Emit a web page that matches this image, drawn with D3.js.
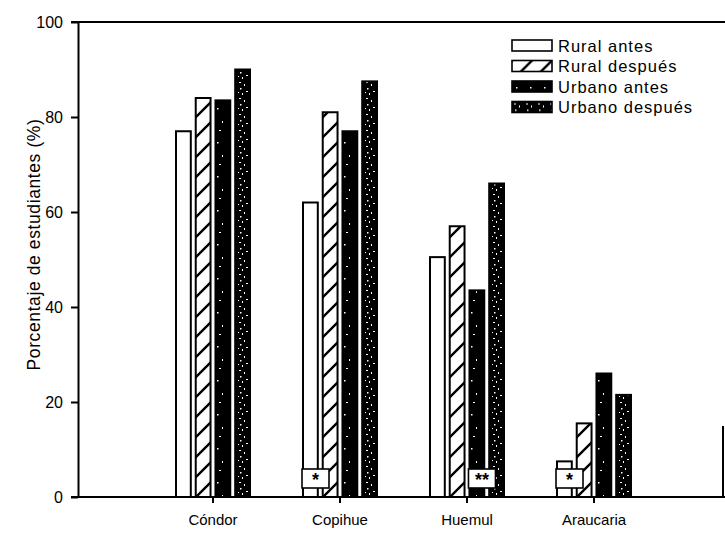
<!DOCTYPE html>
<html>
<head>
<meta charset="utf-8">
<script src="https://cdn.jsdelivr.net/npm/d3@7/dist/d3.min.js"></script>
<style>
  html, body { margin: 0; padding: 0; background: #fff; }
  svg { display: block; font-family: Arial, "Liberation Sans", sans-serif; }
</style>
</head>
<body>
<svg id="chart" width="725" height="542"></svg>
<script>
// Students (%) per school programme, before/after, rural vs urban
const categories = ["Cóndor", "Copihue", "Huemul", "Araucaria"];
const seriesNames = ["Rural antes", "Rural después", "Urbano antes", "Urbano después"];
const ruralAntes    = [77, 62, 50.5, 7.5];
const ruralDespues  = [84, 81, 57, 15.5];
const urbanoAntes   = [83.5, 77, 43.5, 26];
const urbanoDespues = [90, 87.5, 66, 21.5];
const yTicks = [0, 20, 40, 60, 80, 100];
const yTitle = "Porcentaje de estudiantes (%)";
// significance markers drawn at the foot of a bar
const markers = [
  { category: "Copihue", series: "Rural antes", label: "*" },
  { category: "Huemul", series: "Urbano antes", label: "**" },
  { category: "Araucaria", series: "Rural antes", label: "*" }
];

(function draw() {
  const seriesValues = [ruralAntes, ruralDespues, urbanoAntes, urbanoDespues];
  const rows = categories.map((c, i) => ({
    category: c,
    values: seriesNames.map((s, j) => ({ series: s, value: seriesValues[j][i] }))
  }));

  const svg = d3.select("#chart");
  const axisX = 78, plotTop = 22, plotBottom = 497, rightEdge = 724;

  const y = d3.scaleLinear().domain([0, 100]).range([plotBottom, plotTop]);
  const x0 = d3.scaleBand().domain(categories).range([149.5, 657.5]);
  const x1 = d3.scaleBand().domain(seriesNames).range([-37, 37]).paddingInner(0.25);

  // fill patterns
  const defs = svg.append("defs");
  const hatch = defs.append("pattern").attr("id", "hatch")
    .attr("patternUnits", "userSpaceOnUse").attr("width", 20).attr("height", 20);
  hatch.append("rect").attr("width", 20).attr("height", 20).attr("fill", "#fff");
  hatch.append("path").attr("d", "M-2,22 L22,-2 M-2,2 L2,-2 M18,22 L22,18")
    .attr("stroke", "#000").attr("stroke-width", 2.4);

  const speckSparse = defs.append("pattern").attr("id", "speckSparse")
    .attr("patternUnits", "userSpaceOnUse").attr("width", 14).attr("height", 34);
  speckSparse.append("rect").attr("width", 14).attr("height", 34).attr("fill", "#000");
  [[4, 6, 1.5, 1.5], [9, 19, 1, 2], [6, 28, 2, 1]].forEach(d =>
    speckSparse.append("rect").attr("x", d[0]).attr("y", d[1]).attr("width", d[2]).attr("height", d[3]).attr("fill", "#fff"));

  const speckDense = defs.append("pattern").attr("id", "speckDense")
    .attr("patternUnits", "userSpaceOnUse").attr("width", 12).attr("height", 16);
  speckDense.append("rect").attr("width", 12).attr("height", 16).attr("fill", "#000");
  [[2, 2, 2, 1], [7, 4, 1, 2], [3, 8, 1.5, 1.5], [9, 11, 2, 1], [5, 13, 1, 2], [1, 12, 1, 1]].forEach(d =>
    speckDense.append("rect").attr("x", d[0]).attr("y", d[1]).attr("width", d[2]).attr("height", d[3]).attr("fill", "#fff"));

  const fills = {
    "Rural antes": "#fff",
    "Rural después": "url(#hatch)",
    "Urbano antes": "url(#speckSparse)",
    "Urbano después": "url(#speckDense)"
  };

  // bars
  const groups = svg.append("g").selectAll("g").data(rows).join("g")
    .attr("transform", d => `translate(${x0(d.category) + x0.bandwidth() / 2},0)`);
  groups.selectAll("rect").data(d => d.values).join("rect")
    .attr("x", d => x1(d.series))
    .attr("y", d => y(d.value))
    .attr("width", x1.bandwidth())
    .attr("height", d => y(0) - y(d.value))
    .attr("fill", d => fills[d.series])
    .attr("stroke", "#000")
    .attr("stroke-width", 2);

  // significance boxes
  const mk = svg.append("g").selectAll("g").data(markers).join("g")
    .attr("transform", d => `translate(${x0(d.category) + x0.bandwidth() / 2 + x1(d.series) - 1},${plotBottom - 28})`);
  mk.append("rect").attr("width", 27).attr("height", 19)
    .attr("fill", "#fff").attr("stroke", "#000").attr("stroke-width", 1.6);
  mk.append("text").attr("x", 13.5).attr("y", 17).attr("text-anchor", "middle")
    .attr("font-size", 18).attr("font-weight", "bold").text(d => d.label);

  // y axis
  const yAxis = svg.append("g").attr("transform", `translate(${axisX},0)`)
    .call(d3.axisLeft(y).tickValues(yTicks).tickSize(7).tickSizeOuter(0).tickPadding(8));
  yAxis.select(".domain").attr("stroke-width", 2);
  yAxis.selectAll(".tick line").attr("stroke-width", 2);
  yAxis.selectAll(".tick text").attr("font-size", 16).attr("fill", "#000");

  // x axis
  const xAxis = svg.append("g").attr("transform", `translate(0,${plotBottom})`)
    .call(d3.axisBottom(x0).tickSize(6).tickPadding(11));
  xAxis.select(".domain").remove();
  xAxis.selectAll(".tick line").attr("stroke-width", 2);
  xAxis.selectAll(".tick text").attr("font-size", 15).attr("fill", "#000");

  // frame
  svg.append("line").attr("x1", axisX - 7).attr("x2", rightEdge + 1).attr("y1", plotTop).attr("y2", plotTop)
    .attr("stroke", "#000").attr("stroke-width", 2);
  svg.append("line").attr("x1", axisX - 7).attr("x2", rightEdge + 1).attr("y1", plotBottom).attr("y2", plotBottom)
    .attr("stroke", "#000").attr("stroke-width", 2);
  svg.append("line").attr("x1", rightEdge - 1).attr("x2", rightEdge - 1).attr("y1", 426).attr("y2", plotBottom)
    .attr("stroke", "#000").attr("stroke-width", 2);

  // y title
  svg.append("text")
    .attr("transform", `translate(40,${(plotTop + plotBottom) / 2 - 15}) rotate(-90)`)
    .attr("text-anchor", "middle").attr("font-size", 17.5).attr("letter-spacing", 0.6)
    .text(yTitle);

  // legend
  const legend = svg.append("g").attr("transform", "translate(512,40)");
  const li = legend.selectAll("g").data(seriesNames).join("g")
    .attr("transform", (d, i) => `translate(0,${i * 20.5})`);
  li.append("rect").attr("x", 0).attr("y", 0).attr("width", 40).attr("height", 11)
    .attr("fill", d => fills[d]).attr("stroke", "#000").attr("stroke-width", 1.6);
  li.append("text").attr("x", 46).attr("y", 11.5).attr("font-size", 16.5).attr("letter-spacing", 1)
    .text(d => d);
})();
</script>
</body>
</html>
